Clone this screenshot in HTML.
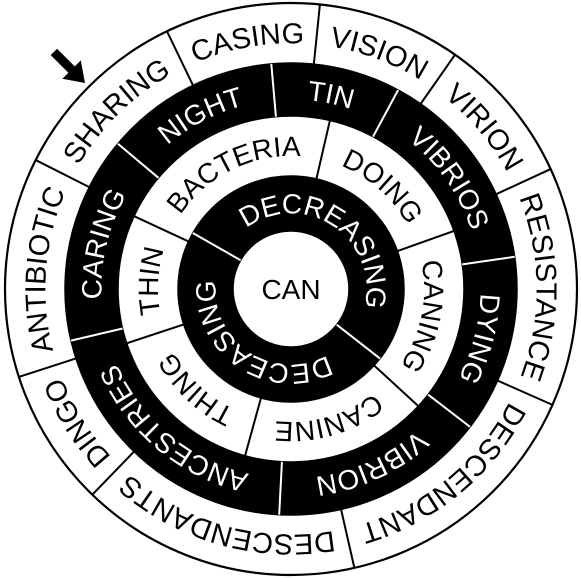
<!DOCTYPE html>
<html><head><meta charset="utf-8"><style>
html,body{margin:0;padding:0;background:#fff;}
svg{display:block;}
text{font-family:"Liberation Sans",Arial,sans-serif;}
</style></head><body>
<svg id="wheel" width="581" height="578" viewBox="0 0 581 578" xmlns="http://www.w3.org/2000/svg">
<g id="rings"></g>
<g id="arrow" transform="translate(85,83) rotate(45)">
<polygon points="0,0 -19,-13 -19,-4.5 -44,-4.5 -44,4.5 -19,4.5 -19,13" fill="#000"/>
</g>
</svg>
<script>
const CX = 291, CY = 289;
// ring definitions (innermost to outermost)
const ringInner = [58, 113, 173, 226];
const ringOuter = [113, 173, 226, 286];
const ringFill = ['#000', '#fff', '#000', '#fff'];
const ringFont = [28, 28, 28, 29];
const labels0 = ['DECREASING', 'DECEASING'];
const bounds0 = [299.7, 128];
const labels1 = ['BACTERIA', 'DOING', 'CANING', 'CANINE', 'THING', 'THIN'];
const bounds1 = [294.9, 13, 70.4, 132.6, 195.4, 251.7];
const labels2 = ['NIGHT', 'TIN', 'VIBRIOS', 'DYING', 'VIBRION', 'ANCESTRIES', 'CARING'];
const bounds2 = [310, 355, 28.3, 81.8, 127.6, 183, 256.8];
const labels3 = ['SHARING', 'CASING', 'VISION', 'VIRION', 'RESISTANCE', 'DESCENDANT', 'DESCENDANTS', 'DINGO', 'ANTIBIOTIC'];
const bounds3 = [296.8, 334.3, 5.8, 35, 65.2, 113.9, 167.2, 224, 252.1];
const centerLabel = 'CAN';

const NS = 'http://www.w3.org/2000/svg';
const g = document.getElementById('rings');
const svg = document.getElementById('wheel');
const defs = document.createElementNS(NS, 'defs');
svg.insertBefore(defs, svg.firstChild);
function pt(r, a) { const t = a * Math.PI / 180; return [CX + r * Math.sin(t), CY - r * Math.cos(t)]; }

const allLabels = [labels0, labels1, labels2, labels3];
const allBounds = [bounds0, bounds1, bounds2, bounds3];
let pid = 0;
for (let i = 3; i >= 0; i--) {
  const c = document.createElementNS(NS, 'circle');
  
  
  c.setAttribute('cx', CX); c.setAttribute('cy', CY); c.setAttribute('r', ringOuter[i]);
  c.setAttribute('fill', ringFill[i]); c.setAttribute('stroke', '#000'); c.setAttribute('stroke-width', i === 3 ? 2.2 : 1.5);
  g.appendChild(c);
}
const inner = document.createElementNS(NS, 'circle');


inner.setAttribute('cx', CX); inner.setAttribute('cy', CY); inner.setAttribute('r', ringInner[0]);
inner.setAttribute('fill', '#fff'); inner.setAttribute('stroke', '#000'); inner.setAttribute('stroke-width', 1.5);
g.appendChild(inner);

for (let i = 0; i < 4; i++) {
  const labs = allLabels[i], bds = allBounds[i];
  const lineColor = ringFill[i] === '#000' ? '#fff' : '#000';
  const textColor = lineColor;
  for (let k = 0; k < bds.length; k++) {
    const a = pt(ringInner[i], bds[k]), b = pt(ringOuter[i], bds[k]);
    const l = document.createElementNS(NS, 'line');
    
    
    l.setAttribute('x1', a[0]); l.setAttribute('y1', a[1]); l.setAttribute('x2', b[0]); l.setAttribute('y2', b[1]);
    l.setAttribute('stroke', lineColor); l.setAttribute('stroke-width', 2);
    g.appendChild(l);
  }
  const fs = ringFont[i];
  const rBase = (ringInner[i] + ringOuter[i]) / 2 - fs * 0.716 / 2;
  for (let k = 0; k < labs.length; k++) {
    const s = bds[k], e = bds[(k + 1) % bds.length];
    let span = e - s; if (span <= 0) span += 360;
    const mid = s + span / 2;
    const p1 = pt(rBase, mid - 170), p2 = pt(rBase, mid + 170);
    const path = document.createElementNS(NS, 'path');
    const id = 'arc' + (pid++);
    path.setAttribute('id', id);
    path.setAttribute('d', `M${p1[0]},${p1[1]} A${rBase},${rBase} 0 1 1 ${p2[0]},${p2[1]}`);
    defs.appendChild(path);
    const t = document.createElementNS(NS, 'text');
    
    
    t.setAttribute('font-size', fs); t.setAttribute('fill', textColor); t.setAttribute('text-anchor', 'middle');
    const tp = document.createElementNS(NS, 'textPath');
    tp.setAttribute('href', '#' + id);
    tp.setAttribute('startOffset', '50%');
    tp.textContent = labs[k];
    t.appendChild(tp);
    g.appendChild(t);
  }
}
const ct = document.createElementNS(NS, 'text');


ct.setAttribute('x', CX); ct.setAttribute('y', CY + 10); ct.setAttribute('font-size', 28);
ct.setAttribute('text-anchor', 'middle'); ct.setAttribute('fill', '#000');
ct.textContent = centerLabel;
g.appendChild(ct);
</script>
</body></html>
